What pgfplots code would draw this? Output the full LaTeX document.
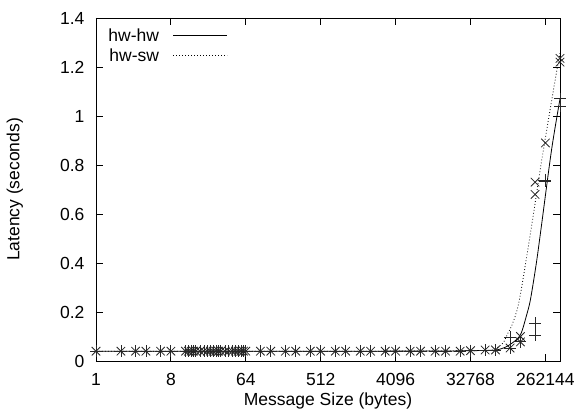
\documentclass[border=0pt]{standalone}
\usepackage{fontspec}
\setmainfont{Liberation Sans}
\usepackage{pgfplots}
\pgfplotsset{compat=1.18}
\begin{document}
\begin{tikzpicture}[font=\fontsize{17.5}{19}\selectfont]
\begin{axis}[
  name=ax, at={(0,0)}, anchor=south west,
  scale only axis, width=464pt, height=343pt,
  xmode=log, log basis x=2,
  xmin=1, xmax=393216, ymin=0, ymax=1.4,
  xtick={1,8,64,512,4096,32768,262144},
  xticklabels={1,8,64,512,4096,32768,262144},
  ytick={0,0.2,0.4,0.6,0.8,1,1.2,1.4},
  yticklabels={0,0.2,0.4,0.6,0.8,1,1.2,1.4},
  xticklabel style={yshift=-9pt},
  yticklabel style={xshift=-8pt},
  xminorticks=false, yminorticks=false,
  tick align=inside, major tick length=7pt,
  axis line style={line width=0.8pt},
  every tick/.style={line width=0.8pt, black},
  xlabel={Message Size (bytes)},
  ylabel={Latency (seconds)},
  xlabel style={at={(axis description cs:0.5,-0.116)}, anchor=center},
  ylabel style={at={(axis description cs:-0.175,0.5)}, anchor=center},
  legend style={at={(axis description cs:0.2845,0.975)}, anchor=north east,
    draw=none, fill=none, inner sep=0pt, row sep=1.5pt,
    font=\fontsize{17.5}{19}\selectfont},
  legend cell align=right,
  legend plot pos=right,
  legend image code/.code={\path (0pt,0pt); \draw[#1] (12pt,0pt) -- (66pt,0pt);},
]
% hw-hw samples
\addplot[only marks, mark=+, mark size=6pt, black!85, mark options={line width=0.8pt}, forget plot] coordinates {
  (1,0.04) (2,0.04) (3,0.04) (4,0.04) (6,0.04) (8,0.04)
  (12,0.04) (13,0.04) (14,0.04) (15,0.04) (16,0.04) (18,0.04)
  (20,0.04) (22,0.04) (24,0.04) (26,0.04) (28,0.04) (30,0.04) (32,0.04) (36,0.04)
  (40,0.04) (44,0.04) (48,0.04) (52,0.04) (56,0.04) (60,0.04) (64,0.04)
  (96,0.04) (128,0.04) (192,0.04) (256,0.04) (384,0.04) (512,0.04)
  (768,0.04) (1024,0.04) (1536,0.04) (2048,0.04) (3072,0.04) (4096,0.04)
  (6144,0.04) (8192,0.04) (12288,0.04) (16384,0.04) (24576,0.04)
  (32768,0.042) (49152,0.045) (65536,0.045)
  (98304,0.053) (98304,0.098) (131072,0.078)
  (196608,0.155) (196608,0.106)
  (262144,0.735) (262144,0.739)
  (393216,1.07) (393216,1.04)
};
% hw-sw samples
\addplot[only marks, mark=x, mark size=6pt, black!85, mark options={line width=0.8pt}, forget plot] coordinates {
  (1,0.04) (2,0.04) (3,0.04) (4,0.04) (6,0.04) (8,0.04)
  (12,0.04) (13,0.04) (14,0.04) (15,0.04) (16,0.04) (18,0.04)
  (20,0.04) (22,0.04) (24,0.04) (26,0.04) (28,0.04) (30,0.04) (32,0.04) (36,0.04)
  (40,0.04) (44,0.04) (48,0.04) (52,0.04) (56,0.04) (60,0.04) (64,0.04)
  (96,0.04) (128,0.04) (192,0.04) (256,0.04) (384,0.04) (512,0.04)
  (768,0.04) (1024,0.04) (1536,0.04) (2048,0.04) (3072,0.04) (4096,0.04)
  (6144,0.04) (8192,0.04) (12288,0.04) (16384,0.04) (24576,0.04)
  (32768,0.042) (49152,0.045) (65536,0.045)
  (98304,0.053) (131072,0.078) (131072,0.10)
  (196608,0.73) (196608,0.68)
  (262144,0.89)
  (393216,1.235) (393216,1.22)
};
% fitted curves
\addplot[black, line width=0.8pt, smooth, no marks] coordinates {
  (1,0.04) (1024,0.04) (16384,0.041) (32768,0.042) (46341,0.043)
  (66900,0.045) (88300,0.058) (116400,0.086) (134000,0.114)
  (153700,0.181) (172900,0.25) (204000,0.40) (234400,0.55)
  (310400,0.86) (393216,1.07)
};
\addlegendentry{hw-hw}
\addplot[black, line width=0.8pt, dash pattern=on 0.8pt off 2.2pt, smooth, no marks] coordinates {
  (1,0.04) (1024,0.04) (16384,0.041) (32768,0.042) (45000,0.043)
  (60700,0.045) (80100,0.072) (91400,0.11) (105700,0.154)
  (127400,0.25) (176600,0.54) (242000,0.84) (378600,1.229) (393216,1.24)
};
\addlegendentry{hw-sw}
\end{axis}
\pgfresetboundingbox
\path[use as bounding box] (-96pt,-57pt) rectangle (483pt,361pt);
\end{tikzpicture}
\end{document}
